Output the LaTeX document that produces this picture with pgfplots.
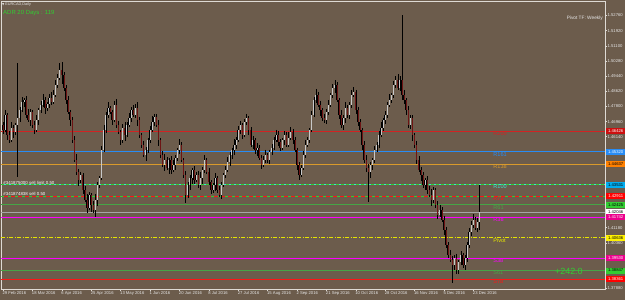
\documentclass[border=0pt]{standalone}
\usepackage{pgfplots}
\pgfplotsset{compat=1.18}
\usepackage{pgfplotstable}
\usepackage{fontspec}
\setmainfont{Liberation Sans}
\definecolor{bgc}{RGB}{108,92,76}
\definecolor{framec}{RGB}{222,218,212}
\definecolor{tickc}{RGB}{230,230,230}
\definecolor{bullc}{RGB}{200,200,200}
\definecolor{bearc}{RGB}{110,20,20}
\definecolor{cR200}{RGB}{210,35,35}
\definecolor{cR161}{RGB}{40,140,245}
\definecolor{cR138}{RGB}{217,154,43}
\definecolor{cR100}{RGB}{64,224,208}
\definecolor{cRed}{RGB}{255,20,20}
\definecolor{cGreen}{RGB}{70,165,70}
\definecolor{cMag}{RGB}{255,0,255}
\definecolor{cYel}{RGB}{230,230,0}
\definecolor{cLime}{RGB}{50,205,50}
\definecolor{cBid}{RGB}{165,165,165}
\newcommand\fsz[1]{\fontsize{#1}{#1}\selectfont}

\pgfplotstableread{
i o h l c
0 1.4678 1.4694 1.4629 1.4651
1 1.4651 1.4760 1.4640 1.4732
2 1.4732 1.4743 1.4596 1.4623
3 1.4623 1.4645 1.4580 1.4596
4 1.4596 1.4694 1.4585 1.4661
5 1.4661 1.4678 1.4607 1.4640
6 1.4640 1.4689 1.4623 1.4678
7 1.4678 1.5016 1.4394 1.4716
8 1.4716 1.4776 1.4694 1.4760
9 1.4760 1.4830 1.4749 1.4803
10 1.4803 1.4825 1.4776 1.4814
11 1.4814 1.4836 1.4716 1.4732
12 1.4732 1.4765 1.4694 1.4705
13 1.4705 1.4765 1.4672 1.4749
14 1.4749 1.4760 1.4661 1.4678
15 1.4678 1.4700 1.4629 1.4651
16 1.4651 1.4732 1.4640 1.4705
17 1.4705 1.4770 1.4678 1.4760
18 1.4760 1.4809 1.4743 1.4787
19 1.4787 1.4847 1.4776 1.4814
20 1.4814 1.4830 1.4738 1.4770
21 1.4770 1.4803 1.4754 1.4792
22 1.4792 1.4847 1.4770 1.4825
23 1.4825 1.4858 1.4787 1.4803
24 1.4803 1.4869 1.4792 1.4841
25 1.4841 1.4923 1.4830 1.4896
26 1.4896 1.4956 1.4879 1.4934
27 1.4934 1.5016 1.4923 1.4978
28 1.4978 1.5021 1.4901 1.4950
29 1.4950 1.4967 1.4863 1.4879
30 1.4879 1.4896 1.4792 1.4814
31 1.4814 1.4836 1.4738 1.4749
32 1.4749 1.4760 1.4672 1.4705
33 1.4705 1.4721 1.4580 1.4596
34 1.4596 1.4618 1.4476 1.4487
35 1.4487 1.4520 1.4405 1.4422
36 1.4422 1.4438 1.4345 1.4378
37 1.4378 1.4422 1.4362 1.4405
38 1.4405 1.4416 1.4302 1.4324
39 1.4324 1.4345 1.4258 1.4269
40 1.4269 1.4302 1.4198 1.4225
41 1.4225 1.4313 1.4215 1.4296
42 1.4296 1.4307 1.4204 1.4242
43 1.4242 1.4263 1.4198 1.4215
44 1.4215 1.4302 1.4176 1.4269
45 1.4269 1.4367 1.4236 1.4351
46 1.4351 1.4400 1.4335 1.4389
47 1.4389 1.4563 1.4378 1.4542
48 1.4542 1.4678 1.4531 1.4651
49 1.4651 1.4749 1.4634 1.4732
50 1.4732 1.4803 1.4716 1.4770
51 1.4770 1.4781 1.4738 1.4749
52 1.4749 1.4760 1.4678 1.4705
53 1.4705 1.4809 1.4694 1.4787
54 1.4787 1.4819 1.4661 1.4678
55 1.4678 1.4700 1.4629 1.4640
56 1.4640 1.4651 1.4569 1.4596
57 1.4596 1.4683 1.4580 1.4661
58 1.4661 1.4694 1.4591 1.4623
59 1.4623 1.4694 1.4612 1.4678
60 1.4678 1.4743 1.4667 1.4716
61 1.4716 1.4776 1.4694 1.4760
62 1.4760 1.4787 1.4721 1.4732
63 1.4732 1.4792 1.4716 1.4770
64 1.4770 1.4803 1.4672 1.4705
65 1.4705 1.4721 1.4607 1.4623
66 1.4623 1.4634 1.4553 1.4569
67 1.4569 1.4591 1.4503 1.4514
68 1.4514 1.4558 1.4482 1.4542
69 1.4542 1.4607 1.4525 1.4596
70 1.4596 1.4672 1.4580 1.4651
71 1.4651 1.4727 1.4640 1.4694
72 1.4694 1.4738 1.4672 1.4721
73 1.4721 1.4738 1.4667 1.4678
74 1.4678 1.4705 1.4563 1.4596
75 1.4596 1.4607 1.4498 1.4514
76 1.4514 1.4536 1.4449 1.4460
77 1.4460 1.4520 1.4427 1.4487
78 1.4487 1.4503 1.4433 1.4443
79 1.4443 1.4498 1.4411 1.4487
80 1.4487 1.4509 1.4411 1.4433
81 1.4433 1.4487 1.4422 1.4460
82 1.4460 1.4514 1.4433 1.4498
83 1.4498 1.4553 1.4482 1.4542
84 1.4542 1.4601 1.4520 1.4569
85 1.4569 1.4585 1.4476 1.4487
86 1.4487 1.4498 1.4389 1.4405
87 1.4405 1.4427 1.4253 1.4296
88 1.4296 1.4367 1.4280 1.4351
89 1.4351 1.4405 1.4324 1.4389
90 1.4389 1.4443 1.4356 1.4433
91 1.4433 1.4454 1.4356 1.4378
92 1.4378 1.4422 1.4367 1.4405
93 1.4405 1.4427 1.4335 1.4351
94 1.4351 1.4422 1.4324 1.4389
95 1.4389 1.4449 1.4356 1.4433
96 1.4433 1.4514 1.4416 1.4487
97 1.4487 1.4498 1.4411 1.4422
98 1.4422 1.4443 1.4351 1.4367
99 1.4367 1.4378 1.4302 1.4324
100 1.4324 1.4362 1.4307 1.4351
101 1.4351 1.4416 1.4318 1.4389
102 1.4389 1.4400 1.4307 1.4324
103 1.4324 1.4345 1.4285 1.4296
104 1.4296 1.4367 1.4274 1.4351
105 1.4351 1.4416 1.4340 1.4405
106 1.4405 1.4454 1.4389 1.4433
107 1.4433 1.4503 1.4422 1.4476
108 1.4476 1.4531 1.4454 1.4514
109 1.4514 1.4553 1.4493 1.4542
110 1.4542 1.4601 1.4514 1.4569
111 1.4569 1.4612 1.4547 1.4596
112 1.4596 1.4672 1.4585 1.4651
113 1.4651 1.4700 1.4629 1.4678
114 1.4678 1.4689 1.4601 1.4623
115 1.4623 1.4710 1.4612 1.4694
116 1.4694 1.4738 1.4678 1.4716
117 1.4716 1.4727 1.4623 1.4651
118 1.4651 1.4667 1.4558 1.4569
119 1.4569 1.4618 1.4547 1.4596
120 1.4596 1.4607 1.4520 1.4542
121 1.4542 1.4580 1.4509 1.4553
122 1.4553 1.4569 1.4487 1.4498
123 1.4498 1.4514 1.4438 1.4460
124 1.4460 1.4509 1.4449 1.4487
125 1.4487 1.4542 1.4471 1.4514
126 1.4514 1.4525 1.4471 1.4487
127 1.4487 1.4542 1.4465 1.4531
128 1.4531 1.4574 1.4514 1.4553
129 1.4553 1.4612 1.4542 1.4596
130 1.4596 1.4651 1.4585 1.4623
131 1.4623 1.4645 1.4563 1.4585
132 1.4585 1.4601 1.4536 1.4553
133 1.4553 1.4607 1.4542 1.4596
134 1.4596 1.4645 1.4569 1.4623
135 1.4623 1.4640 1.4558 1.4569
136 1.4569 1.4640 1.4558 1.4607
137 1.4607 1.4667 1.4596 1.4640
138 1.4640 1.4656 1.4574 1.4596
139 1.4596 1.4612 1.4531 1.4542
140 1.4542 1.4553 1.4433 1.4460
141 1.4460 1.4476 1.4378 1.4405
142 1.4405 1.4460 1.4394 1.4443
143 1.4443 1.4536 1.4433 1.4514
144 1.4514 1.4596 1.4498 1.4569
145 1.4569 1.4612 1.4558 1.4596
146 1.4596 1.4661 1.4580 1.4651
147 1.4651 1.4754 1.4640 1.4732
148 1.4732 1.4830 1.4721 1.4814
149 1.4814 1.4874 1.4798 1.4841
150 1.4841 1.4858 1.4776 1.4787
151 1.4787 1.4809 1.4727 1.4760
152 1.4760 1.4770 1.4700 1.4716
153 1.4716 1.4738 1.4689 1.4705
154 1.4705 1.4765 1.4683 1.4749
155 1.4749 1.4814 1.4732 1.4787
156 1.4787 1.4852 1.4776 1.4841
157 1.4841 1.4901 1.4825 1.4879
158 1.4879 1.4923 1.4852 1.4896
159 1.4896 1.4912 1.4803 1.4814
160 1.4814 1.4825 1.4710 1.4732
161 1.4732 1.4760 1.4661 1.4678
162 1.4678 1.4732 1.4651 1.4716
163 1.4716 1.4803 1.4689 1.4770
164 1.4770 1.4787 1.4716 1.4732
165 1.4732 1.4803 1.4710 1.4787
166 1.4787 1.4869 1.4770 1.4841
167 1.4841 1.4885 1.4830 1.4858
168 1.4858 1.4869 1.4738 1.4760
169 1.4760 1.4776 1.4672 1.4694
170 1.4694 1.4710 1.4640 1.4651
171 1.4651 1.4661 1.4542 1.4569
172 1.4569 1.4591 1.4471 1.4487
173 1.4487 1.4514 1.4422 1.4443
174 1.4443 1.4465 1.4258 1.4422
175 1.4422 1.4476 1.4389 1.4460
176 1.4460 1.4498 1.4433 1.4487
177 1.4487 1.4563 1.4471 1.4542
178 1.4542 1.4585 1.4531 1.4569
179 1.4569 1.4645 1.4553 1.4623
180 1.4623 1.4694 1.4612 1.4661
181 1.4661 1.4716 1.4645 1.4705
182 1.4705 1.4754 1.4683 1.4732
183 1.4732 1.4803 1.4716 1.4787
184 1.4787 1.4847 1.4776 1.4814
185 1.4814 1.4852 1.4798 1.4841
186 1.4841 1.4918 1.4825 1.4896
187 1.4896 1.4945 1.4879 1.4923
188 1.4923 1.4956 1.4869 1.4879
189 1.4879 1.4945 1.4863 1.4923
190 1.4923 1.5277 1.4814 1.4841
191 1.4841 1.4869 1.4792 1.4814
192 1.4814 1.4825 1.4732 1.4760
193 1.4760 1.4781 1.4661 1.4678
194 1.4678 1.4732 1.4656 1.4716
195 1.4716 1.4732 1.4591 1.4623
196 1.4623 1.4634 1.4553 1.4569
197 1.4569 1.4591 1.4465 1.4487
198 1.4487 1.4509 1.4422 1.4433
199 1.4433 1.4449 1.4373 1.4405
200 1.4405 1.4422 1.4335 1.4351
201 1.4351 1.4389 1.4324 1.4378
202 1.4378 1.4400 1.4302 1.4324
203 1.4324 1.4345 1.4285 1.4296
204 1.4296 1.4329 1.4236 1.4269
205 1.4269 1.4340 1.4253 1.4324
206 1.4324 1.4335 1.4225 1.4242
207 1.4242 1.4263 1.4165 1.4187
208 1.4187 1.4242 1.4176 1.4215
209 1.4215 1.4231 1.4149 1.4160
210 1.4160 1.4182 1.4078 1.4106
211 1.4106 1.4122 1.4007 1.4024
212 1.4024 1.4040 1.3953 1.3969
213 1.3969 1.3997 1.3931 1.3942
214 1.3942 1.3964 1.3817 1.3915
215 1.3915 1.3969 1.3888 1.3953
216 1.3953 1.3975 1.3866 1.3888
217 1.3888 1.3942 1.3866 1.3931
218 1.3931 1.3991 1.3915 1.3969
219 1.3969 1.3980 1.3898 1.3915
220 1.3915 1.3969 1.3888 1.3953
221 1.3953 1.4040 1.3931 1.4024
222 1.4024 1.4117 1.4007 1.4095
223 1.4095 1.4155 1.4073 1.4133
224 1.4133 1.4193 1.4117 1.4160
225 1.4160 1.4176 1.4106 1.4117
226 1.4117 1.4171 1.4095 1.4149
227 1.4149 1.4351 1.4106 1.4205
}\candles

\newcommand\lvl[2]{\addplot[#2, forget plot] coordinates {(-0.95,#1) (286.7,#1)};}
\newcommand\lvlname[3]{\node[anchor=north west, inner sep=0.3bp, text=#2, font=\fsz{5.6}] at (axis cs:233.3,#1) {#3};}
\newcommand\pricebox[4]{\node[anchor=west, fill=#2, text=#3, minimum width=19bp, minimum height=6bp, inner sep=0pt, font=\fsz{4.2}, xshift=1bp] at (axis cs:286.7,#1) {#4};}
\newcommand\candleset[4]{\addplot[draw=none, mark=none, forget plot, error bars/.cd, y dir=minus, y explicit, error mark=none, error bar style={draw=#3, line width=#4}]
  table[x=i, y=#1, y error minus expr={#2}] {\candles};}

\begin{document}
\begin{tikzpicture}
\fill[bgc] (-1bp,-11bp) rectangle (624bp,289bp);
\begin{axis}[
  scale only axis, width=604bp, height=288bp,
  xmin=-0.95, xmax=286.7, ymin=1.3784, ymax=1.5354,
  clip=false,
  axis line style={framec, line width=0.6bp},
  tick align=outside, major tick length=2bp,
  tick style={framec, line width=0.5bp},
  xtick pos=lower, ytick pos=right, yticklabel pos=right,
  xtick={0,14,...,224},
  xticklabels={29 Feb 2016, 18 Mar 2016, 6 Apr 2016, 25 Apr 2016, 13 May 2016, 1 Jun 2016, 20 Jun 2016, 8 Jul 2016, 27 Jul 2016, 15 Aug 2016, 2 Sep 2016, 21 Sep 2016, 10 Oct 2016, 28 Oct 2016, 16 Nov 2016, 5 Dec 2016, 23 Dec 2016},
  xticklabel style={anchor=north west, inner sep=0.4bp, xshift=-1bp, font=\fsz{4.2}, text=tickc},
  ytick={1.3788,1.4036,1.4118,1.4614,1.4696,1.4780,1.4862,1.4944,1.5028,1.5110,1.5192,1.5276},
  yticklabels={1.37880,1.40360,1.41180,1.46140,1.46960,1.47800,1.48620,1.49440,1.50280,1.51100,1.51920,1.52760},
  yticklabel style={anchor=west, inner sep=0.4bp, font=\fsz{4.2}, text=tickc},
]
% level lines
\lvl{1.46426}{cR200, line width=1bp}
\lvl{1.45320}{cR161, line width=1.4bp}
\lvl{1.44637}{cR138, line width=1.1bp}
\lvl{1.43531}{cR100, line width=0.9bp}
\lvl{1.43531}{cLime, line width=0.9bp, dash pattern=on 3bp off 2bp}
\lvl{1.42911}{cRed, line width=0.9bp}
\lvl{1.42911}{cLime, line width=0.9bp, dash pattern=on 3bp off 4bp}
\lvl{1.42425}{cGreen, line width=0.9bp}
\lvl{1.42046}{cBid, line width=0.6bp}
\lvl{1.41742}{cMag, line width=0.8bp}
\lvl{1.40636}{cYel, line width=0.9bp, dash pattern=on 4bp off 1.5bp on 1bp off 1.5bp}
\lvl{1.39530}{cMag, line width=0.8bp}
\lvl{1.38847}{cGreen, line width=0.9bp}
\lvl{1.38361}{cRed, line width=0.9bp}
% wicks
\candleset{h}{\thisrow{h}-\thisrow{l}}{black}{0.5bp}
% bull bodies
\candleset{c}{max(\thisrow{c}-\thisrow{o},0)}{black}{1.5bp}
\candleset{c}{max(\thisrow{c}-\thisrow{o},0)}{bullc}{0.8bp}
% bear bodies
\candleset{o}{max(\thisrow{o}-\thisrow{c},0)}{black}{1.5bp}
\candleset{o}{max(\thisrow{o}-\thisrow{c},0)}{bearc}{0.7bp}
% level names
\lvlname{1.46426}{cR200}{R200}
\lvlname{1.45320}{cR161}{R161}
\lvlname{1.44637}{cR138}{R138}
\lvlname{1.43531}{cR100}{R100}
\lvlname{1.42911}{cRed}{R78}
\lvlname{1.42425}{cGreen}{R61}
\lvlname{1.41742}{cMag}{R38}
\lvlname{1.40636}{cYel}{Pivot}
\lvlname{1.39530}{cMag}{S38}
\lvlname{1.38847}{cGreen}{S61}
\lvlname{1.38361}{cRed}{S78}
% order labels
\node[anchor=south west, inner sep=0.3bp, font=\fsz{4.4}, text=white] at (axis cs:0,1.43531) {\#341875000 sell limit 0.50};
\node[anchor=south west, inner sep=0.3bp, font=\fsz{4.4}, text=white] at (axis cs:0,1.42911) {\#341874838 sell 0.50};
% price boxes
\pricebox{1.46426}{cRed!80!black}{white}{1.46426}
\pricebox{1.45320}{cR161}{white}{1.45320}
\pricebox{1.44637}{orange}{black}{1.44637}
\pricebox{1.43531}{cyan}{black}{1.43531}
\pricebox{1.42911}{red}{white}{1.42911}
\pricebox{1.42425}{cLime}{black}{1.42425}
\pricebox{1.42046}{white}{black}{1.42046}
\pricebox{1.41742}{magenta}{white}{1.41742}
\pricebox{1.40636}{yellow}{black}{1.40636}
\pricebox{1.39530}{magenta}{white}{1.39530}
\pricebox{1.38847}{cLime}{black}{1.38847}
\pricebox{1.38361}{red}{white}{1.38361}
\addplot[cRed, line width=0.6bp, dotted, forget plot] coordinates {(282.6,1.3836) (286.7,1.3836)};
\node[anchor=center, font=\fsz{9}, text=cLime, inner sep=0pt] at (axis cs:269.5,1.3880) {+242.0};
\end{axis}
\node[anchor=west, inner sep=0pt, font=\fsz{3.8}, text=tickc] at (1bp,284.5bp) {\fontspec{DejaVu Sans}\fsz{3}▼\ \fontspec{Liberation Sans}\fsz{3.8}EURCAD,Daily};
\node[anchor=west, inner sep=0pt, font=\fsz{6}, text=cLime] at (2bp,276bp) {ADR 20 Days : 119};
\node[anchor=east, inner sep=0pt, font=\fsz{4.8}, text=tickc] at (602bp,270.7bp) {Pivot TF: Weekly};
\pgfresetboundingbox
\path (-1bp,-11bp) rectangle (624bp,289bp);
\end{tikzpicture}
\end{document}
